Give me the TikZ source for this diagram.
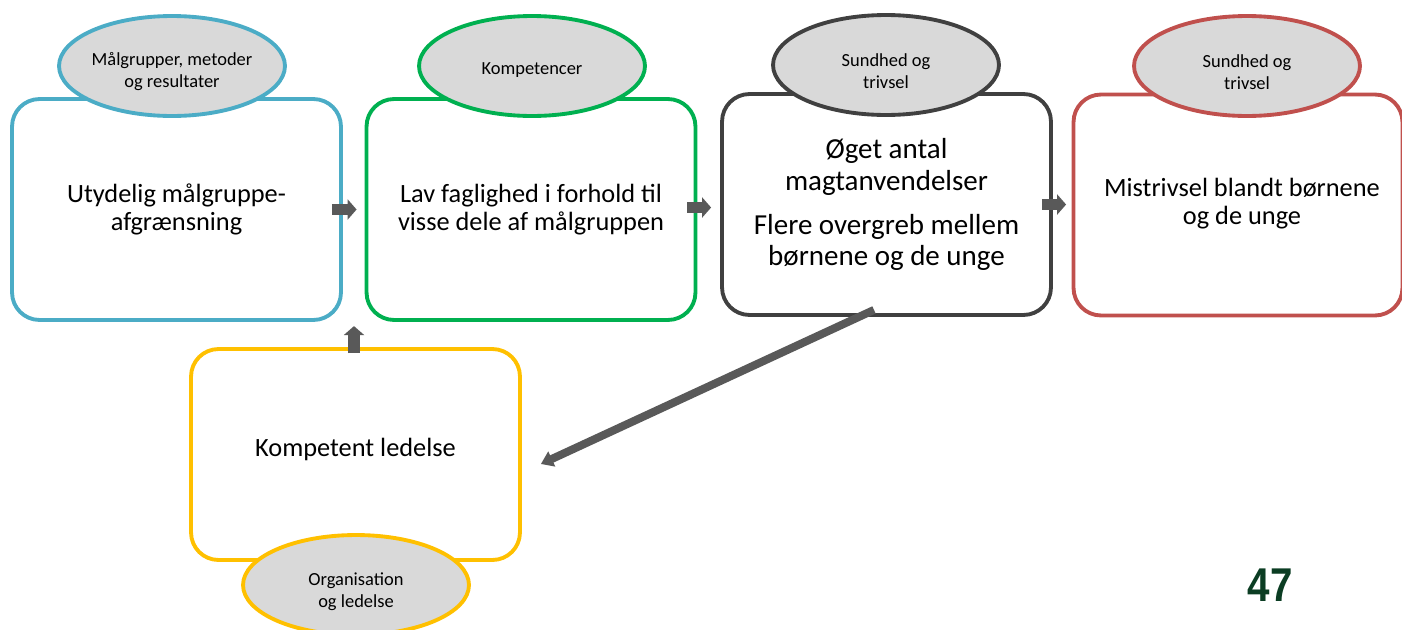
\documentclass[tikz,border=0pt]{standalone}
\usepackage{fontspec}
\setmainfont{Carlito}
\newfontfamily\numfont{Liberation Sans}
\usetikzlibrary{positioning,shapes,arrows.meta,calc}

\definecolor{blaa}{HTML}{4BACC6}
\definecolor{groen}{HTML}{00B050}
\definecolor{moerk}{HTML}{404040}
\definecolor{roed}{HTML}{C0504D}
\definecolor{gul}{HTML}{FFC000}
\definecolor{emnegraa}{HTML}{D9D9D9}
\definecolor{pilgraa}{HTML}{595959}
\definecolor{sidegroen}{HTML}{0B3D23}

\tikzset{
  box/.style={draw,rectangle,rounded corners=0.55cm,line width=2.2pt,fill=white,
    minimum width=6.58cm,minimum height=4.42cm,align=center,
    font=\fontsize{15}{16}\selectfont},
  topic/.style={draw,ellipse,line width=2.2pt,fill=emnegraa,inner sep=0pt,
    minimum width=4.52cm,minimum height=2cm},
  topictext/.style={align=center,inner sep=0pt,font=\fontsize{10.5}{12.5}\selectfont},
  flow/.style={draw=pilgraa,line width=0.23cm,-{Triangle[length=0.18cm,width=0.4cm]}},
  backflow/.style={draw=pilgraa,line width=0.16cm,-{Triangle[length=0.24cm,width=0.32cm]}}
}

\begin{document}
\begin{tikzpicture}[x=0.02cm,y=-0.02cm]
        \useasboundingbox (0,0) rectangle (1402,629);
        % boxes
        \node[box,draw=blaa] (maal) at (176.5,209.5) {Utydelig målgruppe-\\afgrænsning};
        \node[box,draw=groen] (fag) at (531,209.5) {Lav faglighed i forhold til\\visse dele af målgruppen};
        \node[box,draw=moerk,font=\fontsize{16.5}{18}\selectfont] (magt) at (886.5,204.5)
            {Øget antal\\magtanvendelser\\[7pt]Flere overgreb mellem\\børnene og de unge};
        \node[box,draw=roed] (mistriv) at (1238,205) {};
        \node[font=\fontsize{15}{16}\selectfont,align=center] (mistrivtekst) at (1242,204) {Mistrivsel blandt børnene\\og de unge};
        \node[box,draw=gul,minimum height=4.22cm] (ledelse) at (355.5,454.5) {};
        \node[font=\fontsize{15}{16}\selectfont] (ledelsetekst) at (355.5,449) {Kompetent ledelse};
        % topics
        \node[topic,draw=blaa] (maalemne) at (172,66) {};
        \node[topic,draw=groen] (fagemne) at (532,66) {};
        \node[topic,draw=moerk] (magtemne) at (886,65) {};
        \node[topic,draw=roed] (mistrivemne) at (1247,66) {};
        \node[topic,draw=gul] (ledemne) at (356,585) {};
        \node[topictext] (maaltekst) at ($(maalemne)+(0,6)$) {Målgrupper, metoder\\og resultater};
        \node[topictext] (fagtekst) at ($(fagemne)+(0,4)$) {Kompetencer};
        \node[topictext] (magttekst) at ($(magtemne)+(0,6)$) {Sundhed og\\trivsel};
        \node[topictext] (mistrivemnetekst) at ($(mistrivemne)+(0,6)$) {Sundhed og\\trivsel};
        \node[topictext] (ledtekst) at ($(ledemne)+(0,7)$) {Organisation\\og ledelse};
        % arrows
        \draw[flow] ($(maal.east)+(-11,0)$) -- ($(fag.west)+(-8,0)$);
        \draw[flow] ($(fag.east)+(-10,-2)$) -- ($(magt.west |- fag.east)+(-9,-2)$);
        \draw[flow] ($(magt.east)+(-11,0)$) -- ($(mistriv.west |- magt.east)+(-5.5,0)$);
        \draw[flow] ($(ledelse.north)+(-1.5,6)$) -- ($(ledelse.north)+(-1.5,-21)$);
        \draw[backflow] ($(magt.south)+(-12.5,-7)$) -- ($(ledelse.east)+(19,9.5)$);
        % page number
        \node[font=\numfont\bfseries\fontsize{27}{30}\selectfont,text=sidegroen,xscale=0.85,transform shape] (side) at (1270,585) {47};
    \end{tikzpicture}
\end{document}
